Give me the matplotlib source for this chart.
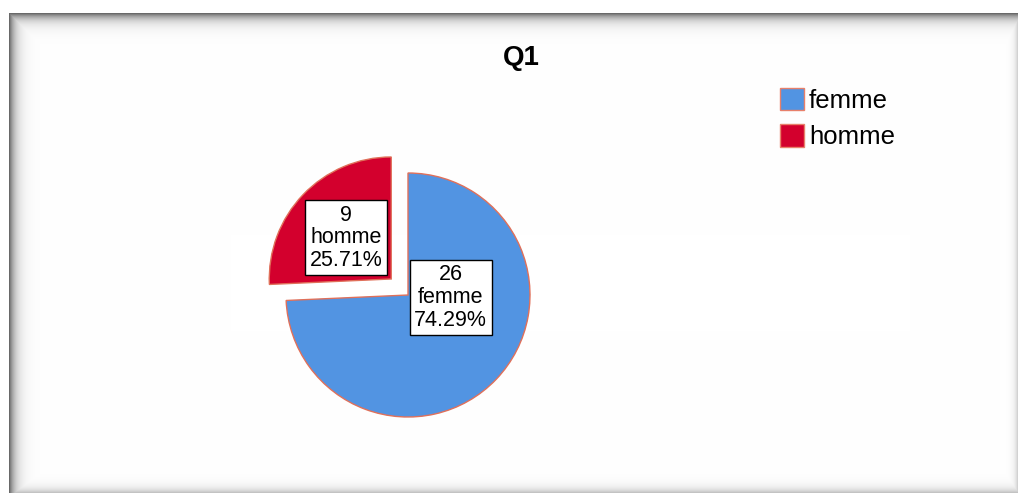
import numpy as np
import matplotlib
matplotlib.use("Agg")
import matplotlib.pyplot as plt
from matplotlib.patches import Patch

# ---- data ----
categories = ["femme", "homme"]
counts = [26, 9]
colors = ["#5294E2", "#D3002D"]
title = "Q1"

W, H = 1018, 493
plt.rcParams["font.family"] = ["Liberation Sans", "DejaVu Sans"]
fig = plt.figure(figsize=(W / 100, H / 100), dpi=100)
fig.patch.set_facecolor("white")

# ---- shadowed frame (decoration) ----
yy, xx = np.mgrid[0:H, 0:W].astype(float)
d_left = xx - 9
d_top = yy - 13
d_right = (W - 1) - xx
d_bottom = (H - 1) - yy
shade = np.maximum.reduce([
    150 * np.exp(-np.clip(d_left, 0, None) / 6.0),
    150 * np.exp(-np.clip(d_top, 0, None) / 6.0),
    45 * np.exp(-np.clip(d_right, 0, None) / 3.0),
    60 * np.exp(-np.clip(d_bottom, 0, None) / 4.5),
])
shade[(d_left < 0) | (d_top < 0)] = 0
img = np.clip(255 - shade, 0, 255) / 255.0
rgb = np.dstack([img, img, img])
bg = fig.add_axes([0, 0, 1, 1], zorder=0)
bg.imshow(rgb, extent=(0, W, H, 0), aspect="auto", interpolation="nearest")
bg.set_xlim(0, W)
bg.set_ylim(H, 0)
bg.axis("off")

# ---- pie axes in pixel units ----
ax = fig.add_axes([0, 0, 1, 1], zorder=1)
ax.patch.set_alpha(0)
cx, cy, r = 408, H - 295, 122
total = sum(counts)
explode_frac = [0.0, 0.19]
wedges, _ = ax.pie(counts, colors=colors, startangle=90, counterclock=False,
                   explode=[e * r for e in explode_frac],
                   center=(cx, cy), radius=r,
                   wedgeprops=dict(edgecolor="#E0705A", linewidth=1.0))
ax.set_xlim(0, W)
ax.set_ylim(0, H)
ax.set_aspect("equal")
ax.axis("off")

# label offsets (in units of radius)
label_offsets = [(0.35, -0.02), (-0.51, 0.47)]
for cat, n, (ox, oy) in zip(categories, counts, label_offsets):
    pct = 100 * n / total
    ax.text(cx + ox * r, cy + oy * r, f"{n}\n{cat}\n{pct:.2f}%",
            ha="center", va="center", fontsize=15.5, linespacing=1.1,
            bbox=dict(boxstyle="square,pad=0.22", facecolor="white",
                      edgecolor="black", linewidth=1.0), zorder=5)

# title
fig.text(521 / W, 1 - 58 / H, title, ha="center", va="center",
         fontsize=20, fontweight="bold", zorder=3)

# legend
handles = [Patch(facecolor=c, edgecolor="#E8806A", linewidth=1.0, label=l)
           for c, l in zip(colors, categories)]
leg = fig.legend(handles=handles, loc="upper left",
                 bbox_to_anchor=(780 / W, 1 - 88 / H), frameon=False,
                 fontsize=18.5, handlelength=0.95, handleheight=0.95,
                 handletextpad=0.18, labelspacing=0.45, borderpad=0,
                 borderaxespad=0)
leg.set_zorder(3)

fig.savefig("out.png", dpi=100)
